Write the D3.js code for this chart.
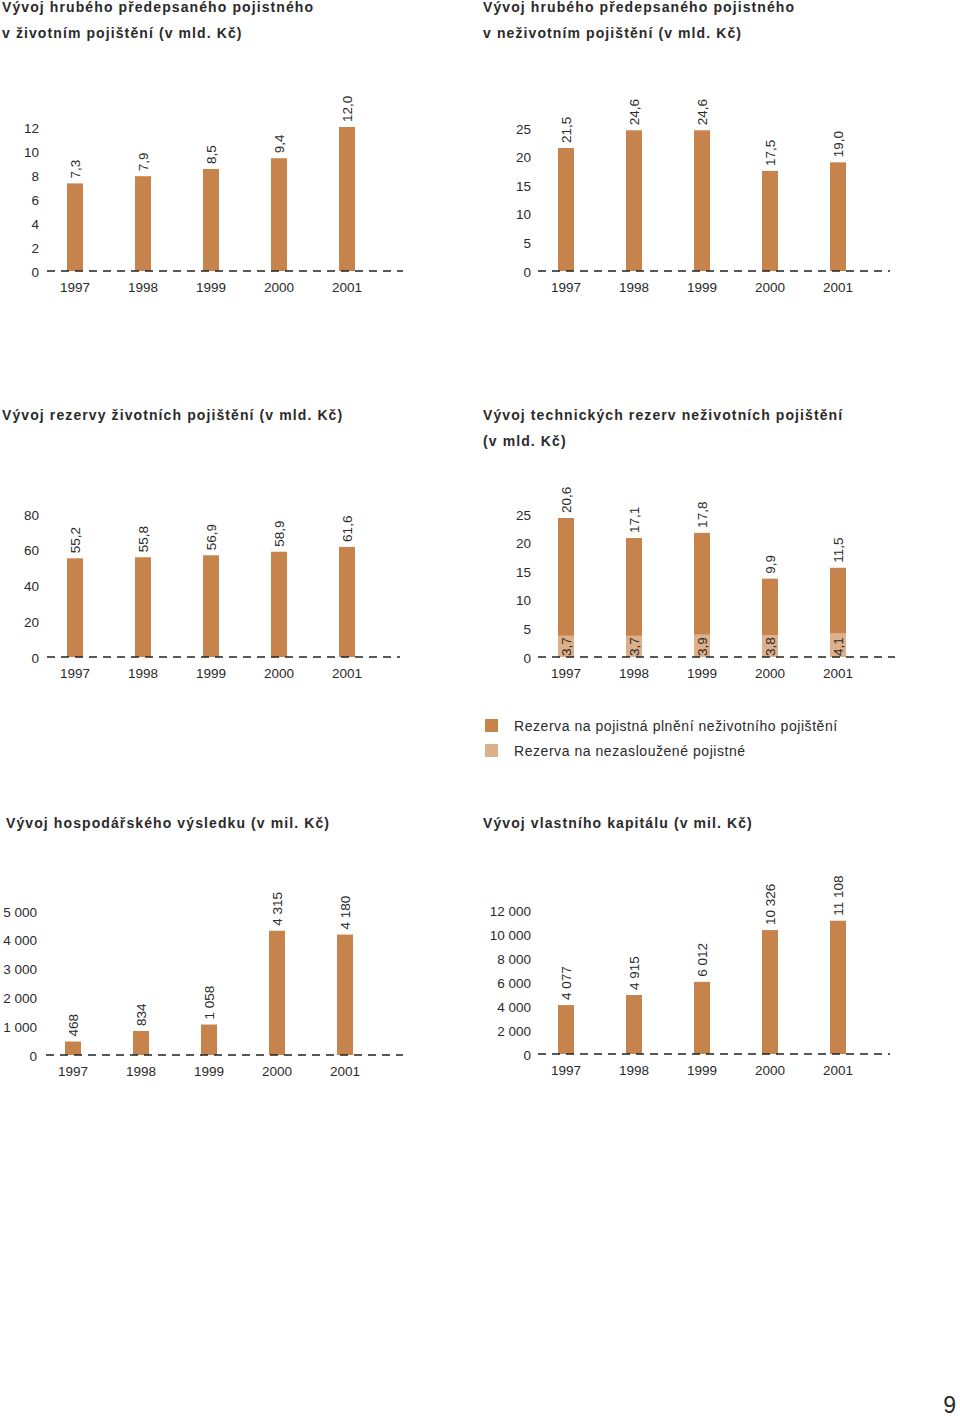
<!DOCTYPE html>
<html><head><meta charset="utf-8">
<script src="https://cdn.jsdelivr.net/npm/d3@7"></script>
<style>
body{margin:0;background:#fff}
svg{display:block}
.title{font-family:"Liberation Sans",Arial,sans-serif;font-weight:bold;font-size:14px;letter-spacing:1.1px;fill:#2a2a2a}
.tick text,.lbl{font-family:"Liberation Sans",Arial,sans-serif;font-size:13.5px;fill:#2a2a2a}
</style></head><body>
<script>
const years = ["1997","1998","1999","2000","2001"];
const lifePremium = [7.3, 7.9, 8.5, 9.4, 12.0];
const nonLifePremium = [21.5, 24.6, 24.6, 17.5, 19.0];
const lifeReserves = [55.2, 55.8, 56.9, 58.9, 61.6];
const claimsReserve = [20.6, 17.1, 17.8, 9.9, 11.5];
const unearnedReserve = [3.7, 3.7, 3.9, 3.8, 4.1];
const profit = [468, 834, 1058, 4315, 4180];
const equity = [4077, 4915, 6012, 10326, 11108];
const ticks1 = [0,2,4,6,8,10,12];
const ticks2 = [0,5,10,15,20,25];
const ticks3 = [0,20,40,60,80];
const ticks4 = [0,5,10,15,20,25];
const ticks5 = [0,1000,2000,3000,4000,5000];
const ticks6 = [0,2000,4000,6000,8000,10000,12000];
const legendLabels = ["Rezerva na pojistná plnění neživotního pojištění","Rezerva na nezasloužené pojistné"];

const C_DARK = "#c6844c", C_LIGHT = "#ddb08c";
const loc = d3.formatLocale({decimal:",", thousands:"\u00a0", grouping:[3], currency:["",""]});
const f1 = loc.format(".1f"), fInt = loc.format(",d");

const svg = d3.select("body").append("svg").attr("width",960).attr("height",1420);

function title(x, y, lines){
  const t = svg.append("text").attr("class","title").attr("x",x).attr("y",y);
  lines.forEach((l,i)=> t.append("tspan").attr("x",x).attr("dy", i?26:0).text(l));
}

function chart(o){
  const g = svg.append("g");
  const x = d3.scaleBand().domain(years).range(o.xr).paddingInner(0).paddingOuter(0);
  const y = d3.scaleLinear().domain([0, d3.max(o.ticks)]).range(o.yr);
  const fmt = o.fmt;
  const bw = 16;
  const cx = d => x(d) + x.bandwidth()/2;
  const ax = g.append("g").attr("transform",`translate(${o.axisX},0)`)
    .call(d3.axisLeft(y).tickValues(o.ticks).tickSize(0).tickPadding(0).tickFormat(o.tickFmt));
  ax.select(".domain").remove();
  ax.selectAll("text").attr("dy","0.38em");
  const data = years.map((yr,i)=>({yr, base:o.base?o.base[i]:0, v:o.values[i]}));
  if(o.base){
    g.selectAll(".b0").data(data).join("rect")
      .attr("x",d=>cx(d.yr)-bw/2).attr("width",bw)
      .attr("y",d=>y(d.base)).attr("height",d=>y(0)-y(d.base)).attr("fill",C_LIGHT);
  }
  g.selectAll(".b1").data(data).join("rect")
    .attr("x",d=>cx(d.yr)-bw/2).attr("width",bw)
    .attr("y",d=>y(d.base+d.v)).attr("height",d=>y(d.base)-y(d.base+d.v)).attr("fill",C_DARK);
  g.append("line").attr("x1",o.dash[0]).attr("x2",o.dash[1]).attr("y1",y(0)).attr("y2",y(0))
    .attr("stroke","#222").attr("stroke-width",1.5).attr("stroke-dasharray","8,6");
  g.selectAll(".vl").data(data).join("text").attr("class","lbl")
    .attr("transform",d=>`translate(${cx(d.yr)+5},${y(d.base+d.v)-5}) rotate(-90)`)
    .text(d=>fmt(d.v));
  if(o.base){
    g.selectAll(".vl0").data(data).join("text").attr("class","lbl")
      .attr("transform",d=>`translate(${cx(d.yr)+5},${y(0)-1}) rotate(-90)`)
      .text(d=>fmt(d.base));
  }
  g.selectAll(".yl").data(years).join("text").attr("class","lbl")
    .attr("x",d=>cx(d)).attr("y",y(0)+21).attr("text-anchor","middle").text(d=>d);
}

title(2,12,["Vývoj hrubého předepsaného pojistného","v životním pojištění (v mld. Kč)"]);
title(483,12,["Vývoj hrubého předepsaného pojistného","v neživotním pojištění (v mld. Kč)"]);
title(2,420,["Vývoj rezervy životních pojištění (v mld. Kč)"]);
title(483,420,["Vývoj technických rezerv neživotních pojištění","(v mld. Kč)"]);
title(6,828,["Vývoj hospodářského výsledku (v mil. Kč)"]);
title(483,828,["Vývoj vlastního kapitálu (v mil. Kč)"]);

chart({values:lifePremium, ticks:ticks1, xr:[41,381], yr:[271,127], axisX:39, dash:[47,403], fmt:f1, tickFmt:d3.format("d")});
chart({values:nonLifePremium, ticks:ticks2, xr:[532,872], yr:[271,128], axisX:531, dash:[538,890], fmt:f1, tickFmt:d3.format("d")});
chart({values:lifeReserves, ticks:ticks3, xr:[41,381], yr:[657,514], axisX:39, dash:[47,400], fmt:f1, tickFmt:d3.format("d")});
chart({values:claimsReserve, base:unearnedReserve, ticks:ticks4, xr:[532,872], yr:[657,514], axisX:531, dash:[538,895], fmt:f1, tickFmt:d3.format("d")});
chart({values:profit, ticks:ticks5, xr:[39,379], yr:[1055,911], axisX:37, dash:[46,403], fmt:fInt, tickFmt:fInt});
chart({values:equity, ticks:ticks6, xr:[532,872], yr:[1054,910], axisX:531, dash:[538,890], fmt:fInt, tickFmt:fInt});

const lg = svg.append("g");
lg.selectAll("rect").data(legendLabels).join("rect")
  .attr("x",485).attr("y",(d,i)=>719+i*25).attr("width",13).attr("height",13)
  .attr("fill",(d,i)=>i?C_LIGHT:C_DARK);
lg.selectAll("text").data(legendLabels).join("text").attr("class","lbl")
  .attr("x",514).attr("y",(d,i)=>731+i*25).style("font-size","14px").style("letter-spacing","0.55px").text(d=>d);

svg.append("text").attr("x",956).attr("y",1413).attr("text-anchor","end")
  .style("font-family","Liberation Sans, Arial").style("font-size","23px").style("fill","#2a2a2a").text("9");
</script>
</body></html>
